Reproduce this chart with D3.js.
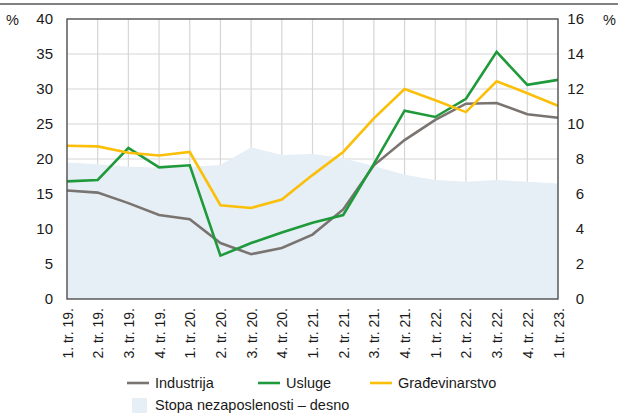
<!DOCTYPE html>
<html><head><meta charset="utf-8">
<script src="https://cdn.jsdelivr.net/npm/d3@7"></script>
<style>
html,body{margin:0;padding:0;background:#fff;}
svg text{font-family:"Liberation Sans",Arial,sans-serif;fill:#1a1a1a;}
</style></head>
<body><svg id="c" width="618" height="417"></svg>
<script>
const quarters = ["1. tr. 19.","2. tr. 19.","3. tr. 19.","4. tr. 19.","1. tr. 20.","2. tr. 20.","3. tr. 20.","4. tr. 20.","1. tr. 21.","2. tr. 21.","3. tr. 21.","4. tr. 21.","1. tr. 22.","2. tr. 22.","3. tr. 22.","4. tr. 22.","1. tr. 23."];
const industrija = [15.5,15.2,13.7,12.0,11.4,8.0,6.4,7.3,9.2,12.8,19.1,22.7,25.6,27.9,28.0,26.4,25.9];
const usluge = [16.8,17.0,21.6,18.8,19.1,6.2,8.0,9.5,10.9,12.0,19.3,26.9,26.0,28.6,35.3,30.6,31.3];
const gradjevinarstvo = [21.9,21.8,20.9,20.5,21.0,13.4,13.0,14.2,17.7,21.0,25.8,30.0,28.4,26.7,31.1,29.4,27.6];
const nezaposlenost = [7.8,7.7,7.56,7.52,7.56,7.66,8.67,8.23,8.29,8.04,7.6,7.1,6.8,6.7,6.8,6.7,6.6];
const leftTicks = [0,5,10,15,20,25,30,35,40];
const rightTicks = [0,2,4,6,8,10,12,14,16];
const seriesNames = ["Industrija","Usluge","Građevinarstvo"];
const areaName = "Stopa nezaposlenosti – desno";

const colors = {Industrija:"#7a7470", Usluge:"#1f9a3b", "Građevinarstvo":"#fbbf0a"};
const areaColor = "#e6eef6";

const svg = d3.select("#c");
const L=67, R=558, T=19, B=299;
const x = d3.scalePoint().domain(quarters).range([L,R]);
const yL = d3.scaleLinear().domain([0,40]).range([B,T]);
const yR = d3.scaleLinear().domain([0,16]).range([B,T]);

// top rule
svg.append("line").attr("x1",0).attr("x2",618).attr("y1",4).attr("y2",4).attr("stroke","#808080").attr("stroke-width",2);

// grid
const g = svg.append("g");
g.selectAll(".hg").data(leftTicks.slice(1,-1)).join("line")
  .attr("x1",L).attr("x2",R).attr("y1",d=>yL(d)).attr("y2",d=>yL(d))
  .attr("stroke","#d6d6d6").attr("stroke-width",1.2);
g.selectAll(".vg").data(quarters.slice(1,-1)).join("line")
  .attr("x1",d=>x(d)).attr("x2",d=>x(d)).attr("y1",T).attr("y2",B)
  .attr("stroke","#d6d6d6").attr("stroke-width",1.2);

// area
const area = d3.area().x((d,i)=>x(quarters[i])).y0(B).y1(d=>yR(d));
svg.append("path").datum(nezaposlenost).attr("d",area).attr("fill",areaColor);

// lines
const line = d3.line().x((d,i)=>x(quarters[i])).y(d=>yL(d));
[[industrija,"Industrija"],[usluge,"Usluge"],[gradjevinarstvo,"Građevinarstvo"]].forEach(([arr,n])=>{
  svg.append("path").datum(arr).attr("d",line).attr("fill","none")
    .attr("stroke",colors[n]).attr("stroke-width",2.6).attr("stroke-linejoin","miter");
});

// frame
svg.append("rect").attr("x",L).attr("y",T).attr("width",R-L).attr("height",B-T)
  .attr("fill","none").attr("stroke","#4d4d4d").attr("stroke-width",1.4);

// left axis
const axL = d3.axisLeft(yL).tickValues(leftTicks).tickSize(0).tickPadding(14);
const gl = svg.append("g").attr("transform",`translate(${L},0)`).call(axL);
gl.select(".domain").remove();
gl.selectAll("text").attr("font-size",15).attr("fill","#1a1a1a").attr("font-family",'"Liberation Sans",Arial,sans-serif');

const axR = d3.axisRight(yR).tickValues(rightTicks).tickSize(0).tickPadding(26);
const gr = svg.append("g").attr("transform",`translate(${R},0)`).call(axR);
gr.select(".domain").remove();
gr.selectAll("text").attr("font-size",15).attr("text-anchor","end").attr("fill","#1a1a1a").attr("font-family",'"Liberation Sans",Arial,sans-serif');

svg.append("text").attr("x",6).attr("y",25).attr("font-size",14.5).text("%");
svg.append("text").attr("x",603).attr("y",25).attr("font-size",14.5).text("%");

// x labels
const axX = d3.axisBottom(x).tickSize(0).tickPadding(0);
const gx = svg.append("g").attr("transform",`translate(0,${B})`).call(axX);
gx.select(".domain").remove();
gx.selectAll("text").attr("font-size",14).attr("text-anchor","end")
  .attr("transform","translate(5,9) rotate(-90)").attr("dy",0).attr("y",0)
  .attr("fill","#1a1a1a").attr("font-family",'"Liberation Sans",Arial,sans-serif');

// legend
const lg = svg.append("g").attr("font-size",14.5);
const items = [["Industrija",127,155],["Usluge",258,286],["Građevinarstvo",370,398]];
items.forEach(([n,lx,tx])=>{
  lg.append("line").attr("x1",lx).attr("x2",lx+22).attr("y1",383).attr("y2",383)
    .attr("stroke",colors[n]).attr("stroke-width",2.6);
  lg.append("text").attr("x",tx).attr("y",388).text(n);
});
lg.append("rect").attr("x",132).attr("y",398).attr("width",15).attr("height",15).attr("fill",areaColor);
lg.append("text").attr("x",155).attr("y",410).text(areaName);
</script></body></html>
